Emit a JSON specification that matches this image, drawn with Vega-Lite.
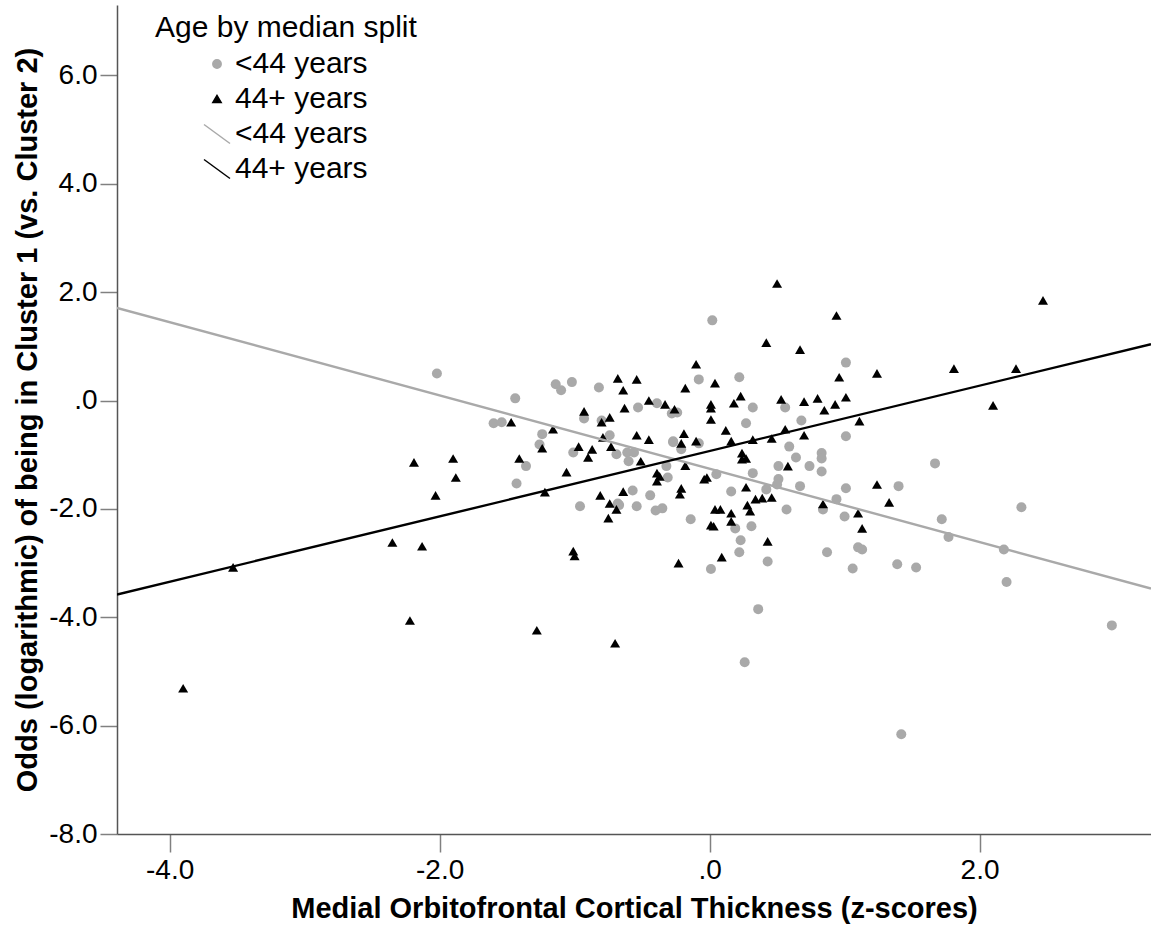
{
  "$schema": "https://vega.github.io/schema/vega-lite/v6.json",
  "autosize": "none",
  "width": 1034,
  "height": 829,
  "padding": {"left": 117, "top": 5, "right": 0, "bottom": 96},
  "background": "white",
  "config": {
    "view": {"stroke": null},
    "font": "Liberation Sans",
    "axis": {
      "grid": false,
      "domainColor": "#555555",
      "domainWidth": 1.5,
      "tickColor": "#808080",
      "tickWidth": 1.5,
      "labelFont": "Liberation Sans",
      "labelFontSize": 28,
      "labelColor": "#000000",
      "titleFont": "Liberation Sans",
      "titleFontSize": 29,
      "titleFontWeight": "bold",
      "titleColor": "#000000"
    },
    "legend": {
      "orient": "none", "legendX": 38, "legendY": 8,
      "titleFont": "Liberation Sans", "titleFontSize": 30, "titleFontWeight": "normal", "titleColor": "#000000",
      "titlePadding": 6, "titleLimit": 600,
      "labelFont": "Liberation Sans", "labelFontSize": 30, "labelColor": "#000000", "labelLimit": 400,
      "symbolSize": 70, "symbolOffset": 47, "labelOffset": 3, "rowPadding": 5
    }
  },
  "datasets": {
    "pts": [
      {"x": -2.02, "y": 0.50, "g": "y"}, {"x": -1.44, "y": 0.04, "g": "y"}, {"x": -1.14, "y": 0.30, "g": "y"},
      {"x": -1.10, "y": 0.19, "g": "y"}, {"x": -1.02, "y": 0.34, "g": "y"}, {"x": -0.82, "y": 0.24, "g": "y"},
      {"x": -1.60, "y": -0.42, "g": "y"}, {"x": -1.54, "y": -0.40, "g": "y"}, {"x": -1.24, "y": -0.62, "g": "y"},
      {"x": -1.26, "y": -0.81, "g": "y"}, {"x": -1.01, "y": -0.96, "g": "y"}, {"x": -0.93, "y": -0.33, "g": "y"},
      {"x": -0.80, "y": -0.37, "g": "y"}, {"x": -0.74, "y": -0.64, "g": "y"}, {"x": -0.69, "y": -0.99, "g": "y"},
      {"x": -1.36, "y": -1.21, "g": "y"}, {"x": -1.43, "y": -1.53, "g": "y"}, {"x": -0.96, "y": -1.95, "g": "y"},
      {"x": -0.68, "y": -1.90, "g": "y"}, {"x": 0.02, "y": 1.48, "g": "y"}, {"x": -0.08, "y": 0.39, "g": "y"},
      {"x": 0.22, "y": 0.43, "g": "y"}, {"x": 0.32, "y": -0.13, "g": "y"}, {"x": -0.53, "y": -0.13, "g": "y"},
      {"x": -0.39, "y": -0.05, "g": "y"}, {"x": -0.28, "y": -0.24, "g": "y"}, {"x": -0.24, "y": -0.22, "g": "y"},
      {"x": 0.27, "y": -0.42, "g": "y"}, {"x": -0.27, "y": -0.75, "g": "y"}, {"x": -0.08, "y": -0.79, "g": "y"},
      {"x": -0.61, "y": -0.96, "g": "y"}, {"x": -0.60, "y": -1.12, "g": "y"}, {"x": -0.56, "y": -0.96, "g": "y"},
      {"x": -0.32, "y": -1.21, "g": "y"}, {"x": -0.27, "y": -0.77, "g": "y"}, {"x": -0.21, "y": -0.90, "g": "y"},
      {"x": -0.31, "y": -1.42, "g": "y"}, {"x": 0.05, "y": -1.36, "g": "y"}, {"x": 0.32, "y": -1.34, "g": "y"},
      {"x": 0.51, "y": -1.21, "g": "y"}, {"x": 0.51, "y": -1.45, "g": "y"}, {"x": 0.50, "y": -1.55, "g": "y"},
      {"x": 0.42, "y": -1.64, "g": "y"}, {"x": 0.16, "y": -1.68, "g": "y"}, {"x": -0.14, "y": -2.19, "g": "y"},
      {"x": 0.31, "y": -2.32, "g": "y"}, {"x": 0.19, "y": -2.36, "g": "y"}, {"x": 0.23, "y": -2.58, "g": "y"},
      {"x": 0.22, "y": -2.80, "g": "y"}, {"x": 0.01, "y": -3.11, "g": "y"}, {"x": 0.43, "y": -2.97, "g": "y"},
      {"x": 0.36, "y": -3.85, "g": "y"}, {"x": -0.57, "y": -1.66, "g": "y"}, {"x": -0.44, "y": -1.75, "g": "y"},
      {"x": -0.54, "y": -1.95, "g": "y"}, {"x": -0.40, "y": -2.03, "g": "y"}, {"x": -0.35, "y": -1.99, "g": "y"},
      {"x": -0.67, "y": -1.93, "g": "y"}, {"x": 1.01, "y": 0.70, "g": "y"}, {"x": 0.56, "y": -0.13, "g": "y"},
      {"x": 0.68, "y": -0.37, "g": "y"}, {"x": 1.01, "y": -0.66, "g": "y"}, {"x": 0.59, "y": -0.85, "g": "y"},
      {"x": 0.64, "y": -1.05, "g": "y"}, {"x": 0.83, "y": -0.97, "g": "y"}, {"x": 0.83, "y": -1.07, "g": "y"},
      {"x": 0.74, "y": -1.21, "g": "y"}, {"x": 0.83, "y": -1.31, "g": "y"}, {"x": 0.67, "y": -1.58, "g": "y"},
      {"x": 1.67, "y": -1.16, "g": "y"}, {"x": 1.01, "y": -1.62, "g": "y"}, {"x": 1.40, "y": -1.58, "g": "y"},
      {"x": 0.94, "y": -1.82, "g": "y"}, {"x": 0.84, "y": -2.01, "g": "y"}, {"x": 1.00, "y": -2.14, "g": "y"},
      {"x": 0.57, "y": -2.01, "g": "y"}, {"x": 0.87, "y": -2.80, "g": "y"}, {"x": 1.10, "y": -2.71, "g": "y"},
      {"x": 1.13, "y": -2.75, "g": "y"}, {"x": 1.06, "y": -3.10, "g": "y"}, {"x": 1.39, "y": -3.02, "g": "y"},
      {"x": 1.53, "y": -3.08, "g": "y"}, {"x": 2.31, "y": -1.97, "g": "y"}, {"x": 1.72, "y": -2.19, "g": "y"},
      {"x": 1.77, "y": -2.52, "g": "y"}, {"x": 2.18, "y": -2.75, "g": "y"}, {"x": 2.20, "y": -3.35, "g": "y"},
      {"x": 2.98, "y": -4.15, "g": "y"}, {"x": 1.42, "y": -6.16, "g": "y"}, {"x": 0.26, "y": -4.83, "g": "y"},
      {"x": -3.90, "y": -5.31, "g": "o"}, {"x": -3.53, "y": -3.08, "g": "o"}, {"x": -2.35, "y": -2.62, "g": "o"},
      {"x": -2.19, "y": -1.14, "g": "o"}, {"x": -2.13, "y": -2.69, "g": "o"}, {"x": -2.22, "y": -4.06, "g": "o"},
      {"x": -1.90, "y": -1.07, "g": "o"}, {"x": -1.88, "y": -1.42, "g": "o"}, {"x": -2.03, "y": -1.75, "g": "o"},
      {"x": -1.47, "y": -0.40, "g": "o"}, {"x": -1.16, "y": -0.53, "g": "o"}, {"x": -0.93, "y": -0.20, "g": "o"},
      {"x": -0.80, "y": -0.40, "g": "o"}, {"x": -0.74, "y": -0.31, "g": "o"}, {"x": -0.79, "y": -0.68, "g": "o"},
      {"x": -0.68, "y": 0.41, "g": "o"}, {"x": -1.24, "y": -0.88, "g": "o"}, {"x": -0.97, "y": -0.85, "g": "o"},
      {"x": -0.87, "y": -0.90, "g": "o"}, {"x": -0.73, "y": -0.85, "g": "o"}, {"x": -1.41, "y": -1.07, "g": "o"},
      {"x": -0.90, "y": -1.05, "g": "o"}, {"x": -1.06, "y": -1.32, "g": "o"}, {"x": -1.22, "y": -1.69, "g": "o"},
      {"x": -0.81, "y": -1.75, "g": "o"}, {"x": -0.74, "y": -1.90, "g": "o"}, {"x": -0.69, "y": -2.01, "g": "o"},
      {"x": -0.75, "y": -2.17, "g": "o"}, {"x": -1.01, "y": -2.78, "g": "o"}, {"x": -1.00, "y": -2.87, "g": "o"},
      {"x": 0.50, "y": 2.16, "g": "o"}, {"x": 0.42, "y": 1.07, "g": "o"}, {"x": -0.10, "y": 0.67, "g": "o"},
      {"x": -0.54, "y": 0.39, "g": "o"}, {"x": -0.64, "y": 0.19, "g": "o"}, {"x": -0.18, "y": 0.23, "g": "o"},
      {"x": 0.04, "y": 0.32, "g": "o"}, {"x": 0.23, "y": 0.08, "g": "o"}, {"x": 0.18, "y": -0.05, "g": "o"},
      {"x": 0.01, "y": -0.07, "g": "o"}, {"x": 0.01, "y": -0.14, "g": "o"}, {"x": -0.63, "y": -0.14, "g": "o"},
      {"x": -0.45, "y": 0.00, "g": "o"}, {"x": -0.33, "y": -0.07, "g": "o"}, {"x": -0.26, "y": -0.16, "g": "o"},
      {"x": 0.01, "y": -0.35, "g": "o"}, {"x": 0.12, "y": -0.55, "g": "o"}, {"x": -0.54, "y": -0.64, "g": "o"},
      {"x": -0.45, "y": -0.72, "g": "o"}, {"x": -0.19, "y": -0.61, "g": "o"}, {"x": -0.21, "y": -0.79, "g": "o"},
      {"x": -0.10, "y": -0.75, "g": "o"}, {"x": 0.16, "y": -0.75, "g": "o"}, {"x": 0.32, "y": -0.72, "g": "o"},
      {"x": 0.46, "y": -0.70, "g": "o"}, {"x": -0.51, "y": -1.12, "g": "o"}, {"x": -0.18, "y": -1.20, "g": "o"},
      {"x": -0.39, "y": -1.34, "g": "o"}, {"x": -0.37, "y": -1.40, "g": "o"}, {"x": -0.39, "y": -1.49, "g": "o"},
      {"x": -0.21, "y": -1.62, "g": "o"}, {"x": -0.22, "y": -1.73, "g": "o"}, {"x": -0.04, "y": -1.45, "g": "o"},
      {"x": -0.02, "y": -1.42, "g": "o"}, {"x": 0.24, "y": -0.97, "g": "o"}, {"x": 0.24, "y": -1.08, "g": "o"},
      {"x": 0.27, "y": -1.07, "g": "o"}, {"x": 0.27, "y": -1.60, "g": "o"}, {"x": 0.34, "y": -1.82, "g": "o"},
      {"x": 0.39, "y": -1.80, "g": "o"}, {"x": 0.46, "y": -1.79, "g": "o"}, {"x": 0.28, "y": -1.93, "g": "o"},
      {"x": 0.30, "y": -2.04, "g": "o"}, {"x": 0.04, "y": -2.01, "g": "o"}, {"x": 0.08, "y": -2.01, "g": "o"},
      {"x": 0.16, "y": -2.08, "g": "o"}, {"x": 0.16, "y": -2.23, "g": "o"}, {"x": 0.01, "y": -2.30, "g": "o"},
      {"x": 0.03, "y": -2.32, "g": "o"}, {"x": 0.43, "y": -2.60, "g": "o"}, {"x": 0.09, "y": -2.89, "g": "o"},
      {"x": -0.23, "y": -3.00, "g": "o"}, {"x": -0.64, "y": -1.68, "g": "o"}, {"x": 0.94, "y": 1.57, "g": "o"},
      {"x": 0.67, "y": 0.94, "g": "o"}, {"x": 1.24, "y": 0.50, "g": "o"}, {"x": 0.96, "y": 0.43, "g": "o"},
      {"x": 0.53, "y": 0.02, "g": "o"}, {"x": 0.70, "y": -0.02, "g": "o"}, {"x": 0.80, "y": 0.04, "g": "o"},
      {"x": 0.93, "y": -0.07, "g": "o"}, {"x": 1.01, "y": 0.06, "g": "o"}, {"x": 0.85, "y": -0.18, "g": "o"},
      {"x": 1.11, "y": -0.38, "g": "o"}, {"x": 0.56, "y": -0.53, "g": "o"}, {"x": 0.70, "y": -0.64, "g": "o"},
      {"x": 0.58, "y": -1.21, "g": "o"}, {"x": 1.24, "y": -1.55, "g": "o"}, {"x": 0.84, "y": -1.91, "g": "o"},
      {"x": 1.33, "y": -1.88, "g": "o"}, {"x": 1.10, "y": -2.08, "g": "o"}, {"x": 1.13, "y": -2.36, "g": "o"},
      {"x": 2.47, "y": 1.85, "g": "o"}, {"x": 1.81, "y": 0.59, "g": "o"}, {"x": 2.27, "y": 0.59, "g": "o"},
      {"x": 2.10, "y": -0.09, "g": "o"}, {"x": -1.28, "y": -4.24, "g": "o"}, {"x": -0.70, "y": -4.48, "g": "o"}
    ],
    "fits": [
      {"x": -4.39, "y": 1.71, "g": "yl"}, {"x": 3.27, "y": -3.47, "g": "yl"},
      {"x": -4.39, "y": -3.58, "g": "ol"}, {"x": 3.27, "y": 1.04, "g": "ol"}
    ]
  },
  "layer": [
    {
      "data": {"name": "pts"},
      "mark": {"type": "point", "filled": true, "opacity": 1, "size": 100, "strokeWidth": 0},
      "encoding": {
        "x": {
          "field": "x", "type": "quantitative",
          "scale": {"domain": [-4.39, 3.27], "nice": false, "zero": false},
          "axis": {
            "values": [-4, -2, 0, 2],
            "tickSize": 18, "labelPadding": 4, "titlePadding": 10,
            "labelExpr": "datum.value == 0 ? '.0' : (datum.value < 0 ? '-' : '') + format(abs(datum.value), '.1f')",
            "title": "Medial Orbitofrontal Cortical Thickness (z-scores)"
          }
        },
        "y": {
          "field": "y", "type": "quantitative",
          "scale": {"domain": [-8, 7.3], "nice": false, "zero": false},
          "axis": {
            "values": [-8, -6, -4, -2, 0, 2, 4, 6],
            "tickSize": 17, "labelPadding": 3, "titlePadding": 6,
            "labelExpr": "datum.value == 0 ? '.0' : (datum.value < 0 ? '-' : '') + format(abs(datum.value), '.1f')",
            "title": "Odds (logarithmic) of being in Cluster 1 (vs. Cluster 2)"
          }
        },
        "color": {
          "field": "g", "type": "nominal",
          "scale": {"domain": ["y", "o", "yl", "ol"], "range": ["#a9a9a9", "#000000", "#a9a9a9", "#000000"]},
          "legend": {
            "title": "Age by median split",
            "labelExpr": "datum.value == 'y' || datum.value == 'yl' ? '<44 years' : '44+ years'",
            "encode": {
              "symbols": {"update": {
                "fill": {"scale": "color", "field": "value"},
                "stroke": {"scale": "color", "field": "value"},
                "strokeWidth": {"signal": "length(datum.value) > 1 ? 2 : 0"},
                "opacity": {"value": 1}
              }}
            }
          }
        },
        "shape": {
          "field": "g", "type": "nominal",
          "scale": {"domain": ["y", "o", "yl", "ol"], "range": ["circle", "triangle-up", "M-3.1,-2.27L3.1,2.27", "M-3.1,-2.27L3.1,2.27"]},
          "legend": {
            "title": "Age by median split",
            "labelExpr": "datum.value == 'y' || datum.value == 'yl' ? '<44 years' : '44+ years'"
          }
        }
      }
    },
    {
      "data": {"name": "fits"},
      "mark": {"type": "line", "strokeWidth": 2.4, "clip": true},
      "encoding": {
        "x": {"field": "x", "type": "quantitative"},
        "y": {"field": "y", "type": "quantitative"},
        "color": {"field": "g", "type": "nominal"},
        "detail": {"field": "g"}
      }
    }
  ]
}
